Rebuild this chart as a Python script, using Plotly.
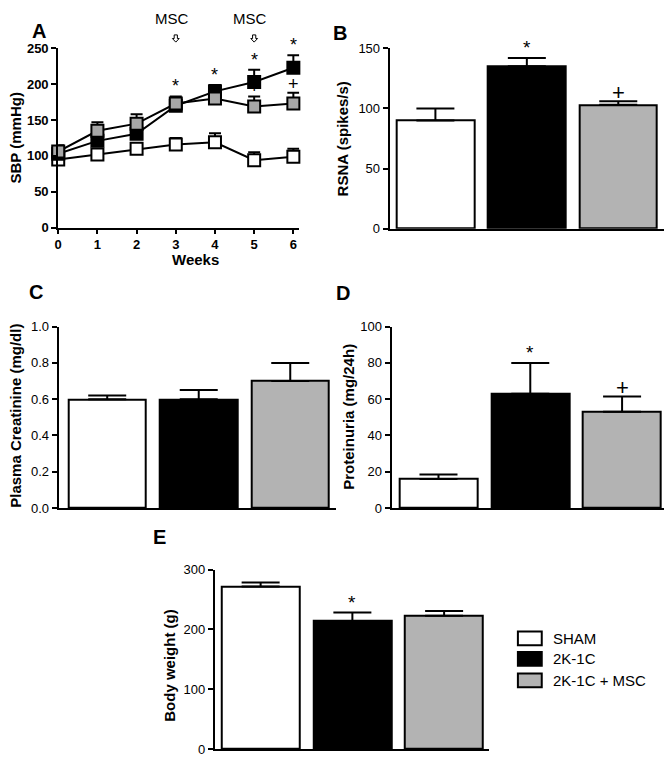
import plotly.graph_objects as go

# The page body keeps an 8px margin, so the figure is 16px smaller than the window
OFF = 8
W, H = 672 - 2 * OFF, 766 - 2 * OFF
FONT = "Liberation Sans, Arial, Helvetica, sans-serif"

# ---------------- data ----------------
groups = ["SHAM", "2K-1C", "2K-1C + MSC"]
bar_fills = ["#ffffff", "#000000", "#b3b3b3"]
marker_fills = ["#ffffff", "#000000", "#a8a8a8"]

weeks = [0, 1, 2, 3, 4, 5, 6]
sbp_sham = [95, 102, 110, 116, 119, 94, 99]
sbp_sham_err = [6, 6, 7, 9, 12.5, 11, 11]
sbp_2k1c = [103, 121, 131, 170, 190, 203, 223]
sbp_2k1c_err = [8, 9, 9, 8, 9, 17, 17.5]
sbp_msc = [106, 135, 145, 173, 180, 169, 173]
sbp_msc_err = [9, 12, 13, 10, 8, 14, 15]
sbp_star_weeks = [3, 4, 5, 6]
sbp_plus_weeks = [5, 6]
msc_weeks = [3, 5]

rsna_mean = [90, 135, 103]
rsna_err = [10, 7, 3]
rsna_marks = ["", "*", "+"]

creat_mean = [0.60, 0.60, 0.70]
creat_err = [0.02, 0.05, 0.10]
creat_marks = ["", "", ""]

prot_mean = [16, 63, 53]
prot_err = [2.5, 17, 8.5]
prot_marks = ["", "*", "+"]

bw_mean = [272, 214, 223]
bw_err = [6.5, 14.5, 8]
bw_marks = ["", "*", ""]


def fx(px):
    return (px - OFF) / W


def fy(py):
    return 1 - (py - OFF) / H


def xdom(px0, px1, r0, r1):
    """Domain in paper units (clipped to the figure) and matching range."""
    scale = (r1 - r0) / (px1 - px0)
    p0 = max(px0, OFF)
    p1 = min(px1, OFF + W)
    return [fx(p0), fx(p1)], [r0 + (p0 - px0) * scale, r0 + (p1 - px0) * scale]


fig = go.Figure()

# ---------------- panel A: SBP time course ----------------
sbp_series = [(sbp_sham, sbp_sham_err), (sbp_2k1c, sbp_2k1c_err), (sbp_msc, sbp_msc_err)]
for (vals, errs), name, fill in zip(sbp_series, groups, marker_fills):
    fig.add_trace(go.Scatter(
        x=weeks, y=vals, name=name, mode="lines+markers",
        line=dict(color="black", width=2),
        marker=dict(symbol="square", size=12, color=fill, line=dict(color="black", width=2)),
        error_y=dict(type="data", array=errs, arrayminus=[0] * len(errs), symmetric=False,
                     color="black", thickness=2, width=6),
        cliponaxis=False, showlegend=False, xaxis="x", yaxis="y",
    ))

# ---------------- bar panels ----------------
bar_panels = [
    (rsna_mean, rsna_err, rsna_marks, "x2", "y2"),
    (creat_mean, creat_err, creat_marks, "x3", "y3"),
    (prot_mean, prot_err, prot_marks, "x4", "y4"),
    (bw_mean, bw_err, bw_marks, "x5", "y5"),
]
annotations = []
for means, errs, marks, xa, ya in bar_panels:
    fig.add_trace(go.Bar(
        x=[0, 1, 2], y=means, width=0.85,
        marker=dict(color=bar_fills, line=dict(color="black", width=2)),
        error_y=dict(type="data", array=errs, arrayminus=[0, 0, 0], symmetric=False,
                     color="black", thickness=2, width=19),
        showlegend=False, xaxis=xa, yaxis=ya, hovertext=groups,
    ))
    for i, (m, e, mk) in enumerate(zip(means, errs, marks)):
        if mk:
            annotations.append(dict(
                x=i, y=m + e, xref=xa, yref=ya, text=mk, showarrow=False,
                yanchor="middle", yshift=10 if mk == "*" else 9,
                font=dict(family=FONT, size=19 if mk == "*" else 22, color="black"),
            ))

# significance marks in panel A
for w in sbp_star_weeks:
    i = weeks.index(w)
    top = max(sbp_2k1c[i] + sbp_2k1c_err[i], sbp_msc[i] + sbp_msc_err[i])
    annotations.append(dict(x=w, y=top, xref="x", yref="y", text="*", showarrow=False,
                            yanchor="middle", yshift=10,
                            font=dict(family=FONT, size=18, color="black")))
for w in sbp_plus_weeks:
    i = weeks.index(w)
    top = sbp_msc[i] + sbp_msc_err[i]
    annotations.append(dict(x=w, y=top, xref="x", yref="y", text="+", showarrow=False,
                            yanchor="middle", yshift=9,
                            font=dict(family=FONT, size=18, color="black")))

# MSC injection markers: label + hollow down arrow
shapes = []
for w in msc_weeks:
    annotations.append(dict(x=w, y=fy(12), xref="x", yref="paper", text="MSC", showarrow=False,
                            xshift=-4, yanchor="middle",
                            font=dict(family=FONT, size=15, color="black")))
    shapes.append(dict(type="path", xref="x", yref="paper",
                       xsizemode="pixel", ysizemode="pixel", xanchor=w, yanchor=fy(32),
                       path="M -1.6,3.6 L 1.6,3.6 L 1.6,0 L 3.4,0 L 0,-3.6 L -3.4,0 L -1.6,0 Z",
                       line=dict(color="black", width=1), fillcolor="white"))

# panel letters
for letter, px, py in [("A", 35, 24), ("B", 338, 26), ("C", 32, 291), ("D", 341, 292), ("E", 156, 541)]:
    annotations.append(dict(x=fx(px), y=fy(py), xref="paper", yref="paper", text=letter,
                            showarrow=False, xanchor="center", yanchor="middle",
                            font=dict(family=FONT, size=20, color="black", weight="bold")))

# axis titles
for title, px, py, ang in [
    ("SBP (mmHg)", 12, 133, -90),
    ("RSNA (spikes/s)", 341, 134, -90),
    ("Plasma Creatinine (mg/dl)", 12, 417, -90),
    ("Proteinuria (mg/24h)", 347, 418, -90),
    ("Body weight (g)", 167, 672, -90),
    ("Weeks", 193, 258, 0),
]:
    annotations.append(dict(x=fx(px), y=fy(py), xref="paper", yref="paper", text=title,
                            showarrow=False, textangle=ang, xanchor="center", yanchor="middle",
                            font=dict(family=FONT, size=15, color="black", weight="bold")))

# legend (boxes + labels)
legend_rows = [644, 665, 687]
for name, fill, py in zip(groups, bar_fills, legend_rows):
    shapes.append(dict(type="rect", xref="paper", yref="paper",
                       x0=fx(517), x1=fx(541), y0=fy(py + 7), y1=fy(py - 7),
                       line=dict(color="black", width=2), fillcolor=fill))
    annotations.append(dict(x=fx(550), y=fy(py), xref="paper", yref="paper", text=name,
                            showarrow=False, xanchor="left", yanchor="middle",
                            font=dict(family=FONT, size=15, color="black")))

common_axis = dict(showline=True, linecolor="black", linewidth=2, showgrid=False,
                   zeroline=False, mirror=False)
yaxis_common = dict(common_axis, ticks="outside", ticklen=5, tickwidth=2, tickcolor="black",
                    tickfont=dict(family=FONT, size=13, color="black"))
xbar_common = dict(common_axis, showticklabels=False, ticks="", fixedrange=True)

dA, rA = xdom(54.5, 297, 0, 6.15)
dB, rB = xdom(388, 664, -0.5, 2.5)
dC, rC = xdom(55, 334, -0.53, 2.5)
dD, rD = xdom(390, 668, -0.51, 2.5)
dE, rE = xdom(212, 488, -0.5, 2.49)

fig.update_layout(
    width=W, height=H, margin=dict(l=0, r=0, t=0, b=0),
    paper_bgcolor="white", plot_bgcolor="white", bargap=0,
    font=dict(family=FONT, color="black"),
    xaxis=dict(common_axis, domain=dA, anchor="y", range=rA,
               tickvals=weeks, ticks="outside", ticklen=4, tickwidth=2, tickcolor="black",
               tickfont=dict(family=FONT, size=13, color="black", weight="bold")),
    yaxis=dict(common_axis, domain=[fy(225), fy(42)], anchor="x", range=[0, 250],
               tickvals=[0, 50, 100, 150, 200, 250], ticks="outside", ticklen=5, tickwidth=2,
               tickcolor="black", tickfont=dict(family=FONT, size=13, color="black", weight="bold")),
    xaxis2=dict(xbar_common, domain=dB, anchor="y2", range=rB),
    yaxis2=dict(yaxis_common, domain=[fy(226), fy(42)], anchor="x2", range=[0, 150],
                tickvals=[0, 50, 100, 150]),
    xaxis3=dict(xbar_common, domain=dC, anchor="y3", range=rC),
    yaxis3=dict(yaxis_common, domain=[fy(511), fy(326)], anchor="x3", range=[0, 1.0],
                tickvals=[0, 0.2, 0.4, 0.6, 0.8, 1.0], tickformat=".1f"),
    xaxis4=dict(xbar_common, domain=dD, anchor="y4", range=rD),
    yaxis4=dict(yaxis_common, domain=[fy(511), fy(326)], anchor="x4", range=[0, 100],
                tickvals=[0, 20, 40, 60, 80, 100]),
    xaxis5=dict(xbar_common, domain=dE, anchor="y5", range=rE),
    yaxis5=dict(yaxis_common, domain=[fy(757), fy(574)], anchor="x5", range=[0, 300],
                tickvals=[0, 100, 200, 300]),
    annotations=annotations,
    shapes=shapes,
)

fig.write_html("out.html")
